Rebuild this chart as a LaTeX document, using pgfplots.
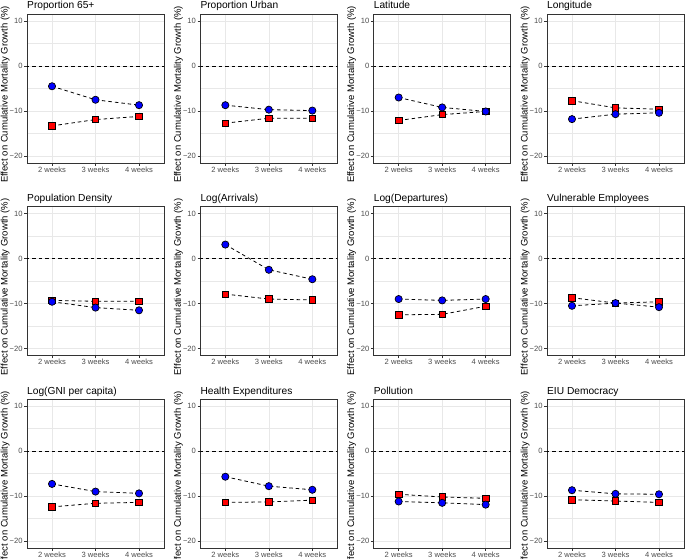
\documentclass[border=0pt]{standalone}
\usepackage{fontspec}
\setmainfont{Liberation Sans}
\usepackage{pgfplots}
\pgfplotsset{compat=1.18}
\usepgfplotslibrary{groupplots}

\definecolor{gridc}{gray}{0.91}
\definecolor{framec}{gray}{0.2}
\definecolor{tickc}{gray}{0.3}

\pgfplotsset{
  zero/.style={black, line width=0.9pt, dash pattern=on 3.5pt off 3pt, forget plot},
  link/.style={black, line width=0.8pt, dash pattern=on 3.5pt off 3pt, forget plot},
  bluept/.style={only marks, mark=*, mark size=3.6pt, mark options={fill=blue, draw=black, line width=0.7pt}},
  redpt/.style={only marks, mark=square*, mark size=3.2pt, mark options={fill=red, draw=black, line width=0.7pt}},
}

% #1 title, #2 blue circles, #3 red squares
\newcommand{\panel}[3]{%
  \nextgroupplot[title={#1}]
  \addplot[zero] coordinates {(0.4,0) (3.6,0)};
  \addplot[link] coordinates {#3};
  \addplot[link] coordinates {#2};
  \addplot[redpt] coordinates {#3};
  \addplot[bluept] coordinates {#2};
}

\begin{document}
\begin{tikzpicture}
\begin{groupplot}[
  group style={group size=4 by 3, horizontal sep=36.3pt, vertical sep=43.5pt},
  scale only axis, width=137pt, height=149pt,
  xmin=0.425, xmax=3.575, ymin=-21.55, ymax=11.55,
  xtick={1,2,3}, xticklabels={2 weeks,3 weeks,4 weeks},
  ytick={-20,-10,0,10}, yticklabels={−20,−10,0,10},
  minor ytick={-15,-5,5},
  grid=both,
  major grid style={gridc, line width=0.6pt},
  minor grid style={gridc, line width=0.3pt},
  axis line style={framec, line width=0.7pt},
  tick style={framec, line width=0.5pt},
  major tick length=2.7pt, minor tick length=0pt,
  tick align=outside, xtick pos=bottom, ytick pos=left,
  ticklabel style={font=\fontsize{7.6}{8}\selectfont, text=tickc},
  xticklabel style={inner sep=0.6pt},
  yticklabel style={inner sep=1.5pt},
  ylabel={Effect on Cumulative Mortality Growth (\%)},
  ylabel style={font=\fontsize{9.5}{10}\selectfont, black, inner sep=0pt,
    at={(axis description cs:-0.142,0.46)}, anchor=base},
  title style={font=\fontsize{10.2}{12}\selectfont, black, at={(0,1)}, anchor=base west, inner sep=0pt, yshift=-1pt},
]
\panel{Proportion 65+}{(1,-4.5) (2,-7.5) (3,-8.7)}{(1,-13.3) (2,-11.9) (3,-11.2)}
\panel{Proportion Urban}{(1,-8.7) (2,-9.7) (3,-9.9)}{(1,-12.7) (2,-11.6) (3,-11.6)}
\panel{Latitude}{(1,-7.0) (2,-9.2) (3,-10.1)}{(1,-12.1) (2,-10.8) (3,-10.1)}
\panel{Longitude}{(1,-11.8) (2,-10.7) (3,-10.4)}{(1,-7.7) (2,-9.3) (3,-9.6)}
\panel{Population Density}{(1,-9.6) (2,-10.9) (3,-11.5)}{(1,-9.3) (2,-9.5) (3,-9.5)}
\panel{Log(Arrivals)}{(1,3.1) (2,-2.5) (3,-4.6)}{(1,-7.9) (2,-9.0) (3,-9.2)}
\panel{Log(Departures)}{(1,-9.0) (2,-9.3) (3,-9.0)}{(1,-12.5) (2,-12.4) (3,-10.6)}
\panel{Vulnerable Employees}{(1,-10.5) (2,-9.9) (3,-10.8)}{(1,-8.7) (2,-9.9) (3,-9.6)}
\panel{Log(GNI per capita)}{(1,-7.3) (2,-9.0) (3,-9.4)}{(1,-12.4) (2,-11.6) (3,-11.4)}
\panel{Health Expenditures}{(1,-5.7) (2,-7.8) (3,-8.6)}{(1,-11.4) (2,-11.3) (3,-10.9)}
\panel{Pollution}{(1,-11.2) (2,-11.5) (3,-11.9)}{(1,-9.6) (2,-10.2) (3,-10.5)}
\panel{EIU Democracy}{(1,-8.7) (2,-9.5) (3,-9.6)}{(1,-10.8) (2,-11.1) (3,-11.4)}
\end{groupplot}
\pgfresetboundingbox
\path ([shift={(-27pt,14pt)}]group c1r1.north west) rectangle ([shift={(1pt,-10pt)}]group c4r3.south east);
\end{tikzpicture}
\end{document}
